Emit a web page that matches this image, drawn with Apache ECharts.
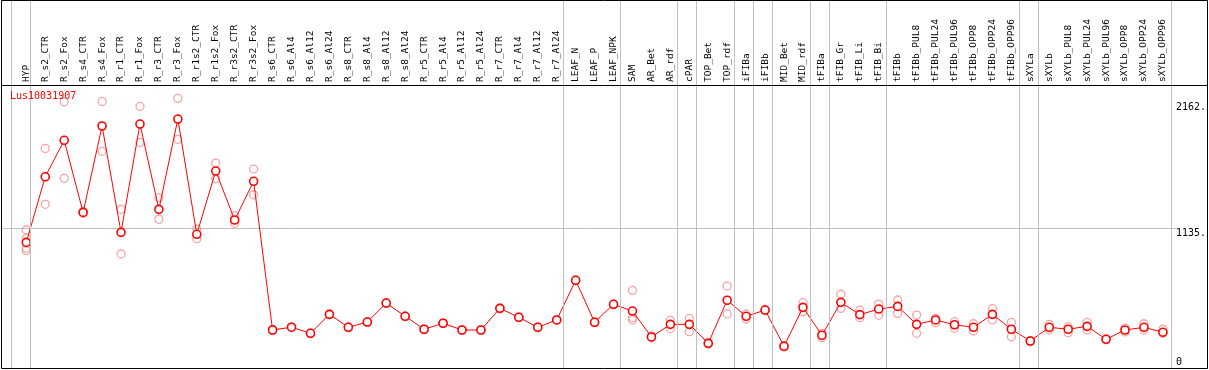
<!DOCTYPE html>
<html><head><meta charset="utf-8">
<script src="https://cdn.jsdelivr.net/npm/echarts@6/dist/echarts.min.js"></script>
<style>html,body{margin:0;padding:0;background:#fff}#c{width:1209px;height:370px}</style>
</head><body><div id="c"></div>
<script>
const geneName = 'Lus10031907';
const categories = ['HYP','R_s2_CTR','R_s2_Fox','R_s4_CTR','R_s4_Fox','R_r1_CTR','R_r1_Fox','R_r3_CTR','R_r3_Fox',
  'R_r1s2_CTR','R_r1s2_Fox','R_r3s2_CTR','R_r3s2_Fox','R_s6_CTR','R_s6_Al4','R_s6_Al12','R_s6_Al24',
  'R_s8_CTR','R_s8_Al4','R_s8_Al12','R_s8_Al24','R_r5_CTR','R_r5_Al4','R_r5_Al12','R_r5_Al24',
  'R_r7_CTR','R_r7_Al4','R_r7_Al12','R_r7_Al24','LEAF_N','LEAF_P','LEAF_NPK','SAM','AR_Bet','AR_rdf',
  'cPAR','TOP_Bet','TOP_rdf','iFIBa','iFIBb','MID_Bet','MID_rdf','tFIBa','tFIB_Gr','tFIB_Li','tFIB_Bi',
  'tFIBb','tFIBb_PUL8','tFIBb_PUL24','tFIBb_PUL96','tFIBb_OPP8','tFIBb_OPP24','tFIBb_OPP96',
  'sXYLa','sXYLb','sXYLb_PUL8','sXYLb_PUL24','sXYLb_PUL96','sXYLb_OPP8','sXYLb_OPP24','sXYLb_OPP96'];
const means = [1020,1556,1854,1265,1971,1102,1987,1290,2028,1086,1603,1203,1519,
  304,327,277,432,326,369,524,416,310,359,304,304,481,408,326,386,
  710,367,514,459,247,350,350,195,547,416,467,171,489,261,530,430,475,
  497,350,386,347,326,432,310,214,326,310,334,228,304,326,285];
const replicates = [
  [1121,1053,971,952],[1788,1331],[2169,1543],[1272,1258],[2172,1764],[1290,925],[2131,1837],[1385,1208],[2197,1862],
  [1129,1050],[1668,1540],[1238,1176],[1619,1409],
  [308,300],[330,324],[280,274],[435,429],[329,323],[372,366],[527,521],[419,413],
  [313,307],[362,356],[307,301],[307,301],[484,478],[411,405],[329,323],[389,383],
  [713,707],[370,364],[517,511],[628,405,386],[255,240],[383,316],[399,290],[200,190],[663,435],
  [435,394],[472,462],[178,165],[527,453],[277,241],[596,481],[467,405],[516,424],
  [549,440],[426,277],[399,364],[372,318],[355,296],[478,386],[367,249],
  [220,208],[350,305],[331,282],[367,305],[232,224],[320,288],[355,304],[310,277]];
// group separators drawn after these categories ('' = leading boundary)
const groupBoundaries = ['', 'HYP', 'R_r7_Al24', 'LEAF_NPK', 'AR_rdf', 'cPAR', 'TOP_rdf', 'iFIBa', 'iFIBb',
  'MID_rdf', 'tFIBa', 'tFIB_Bi', 'tFIBb_OPP96', 'sXYLa', 'sXYLb_OPP96'];
const yTickLabels = [1135, 2162];
const yZeroLabel = [0];
const yMax = 2306;
const refLines = [1135];

const FONT = 'DejaVu Sans Mono';
// separator positions as category indices ('' -> -1, the slot before the first category)
const boundaryValues = groupBoundaries.map(n => categories.indexOf(n));
const repData = [];
replicates.forEach((r, i) => r.forEach(v => repData.push([i, v])));

const chart = echarts.init(document.getElementById('c'), null, {renderer: 'canvas'});
chart.setOption({
  animation: false,
  title: {text: geneName, left: 10, top: 91, padding: 0,
    textStyle: {color: '#ff0000', fontSize: 10, fontWeight: 'normal', fontFamily: FONT}},
  grid: [
    {left: 26.3, width: 1140.4, top: 85, height: 282.2},
    {left: 6.95, width: 1168.9, top: 0, height: 369},
    {left: 2, width: 1175, top: 85, height: 282.2}
  ],
  xAxis: [
    {gridIndex: 0, type: 'category', data: categories, boundaryGap: false, position: 'top',
     axisLine: {show: false}, axisTick: {show: false}, splitLine: {show: false},
     axisLabel: {interval: 0, rotate: 90, margin: 3, fontSize: 9.5, fontFamily: FONT, color: '#000'}},
    {gridIndex: 1, type: 'value', min: -1.25, max: categories.length - 0.75, show: false},
    {gridIndex: 2, type: 'value', show: false}
  ],
  yAxis: [
    {gridIndex: 0, type: 'value', min: 0, max: yMax, position: 'right',
     axisLine: {show: false}, axisTick: {show: false}, splitLine: {show: false},
     axisLabel: {customValues: yTickLabels, formatter: v => v + '.', verticalAlign: 'top', margin: 13,
       fontSize: 10, fontFamily: FONT, color: '#000'}},
    {gridIndex: 0, type: 'value', min: 0, max: yMax, position: 'right',
     axisLine: {show: false}, axisTick: {show: false}, splitLine: {show: false},
     axisLabel: {customValues: yZeroLabel, formatter: v => String(v), verticalAlign: 'bottom', margin: 13,
       fontSize: 10, fontFamily: FONT, color: '#000'}},
    {gridIndex: 1, type: 'value', min: 0, max: 1, show: false},
    {gridIndex: 2, type: 'value', min: 0, max: yMax,
     axisLine: {show: false}, axisTick: {show: false, customValues: refLines}, axisLabel: {show: false},
     splitLine: {show: true, lineStyle: {color: '#c0c0c0', width: 1}}}
  ],
  graphic: [
    {type: 'rect', silent: true, z: 100, shape: {x: 1.5, y: 0.5, width: 1206, height: 368},
     style: {fill: 'none', stroke: '#000', lineWidth: 1}},
    {type: 'line', silent: true, z: 100, shape: {x1: 1.5, y1: 85.5, x2: 1207.5, y2: 85.5},
     style: {stroke: '#000', lineWidth: 1}}
  ],
  series: [
    {type: 'line', xAxisIndex: 1, yAxisIndex: 2, data: [], zlevel: 1, z: 50, silent: true, clip: false,
     markLine: {silent: true, symbol: ['none', 'none'], label: {show: false}, animation: false,
       lineStyle: {color: '#c0c0c0', width: 1, type: 'solid'},
       emphasis: {disabled: true},
       data: boundaryValues.map(v => ({xAxis: v}))}},
    {type: 'scatter', xAxisIndex: 0, yAxisIndex: 0, data: repData, symbol: 'circle', symbolSize: 8, z: 2,
     itemStyle: {color: 'rgba(0,0,0,0)', borderColor: '#f0908f', borderWidth: 1.3}},
    {type: 'line', xAxisIndex: 0, yAxisIndex: 0, data: means, symbol: 'circle', symbolSize: 8, showAllSymbol: true, z: 3,
     lineStyle: {color: '#ff0000', width: 1}, itemStyle: {color: '#fff', borderColor: '#ff0000', borderWidth: 1.6}}
  ]
});
</script></body></html>
